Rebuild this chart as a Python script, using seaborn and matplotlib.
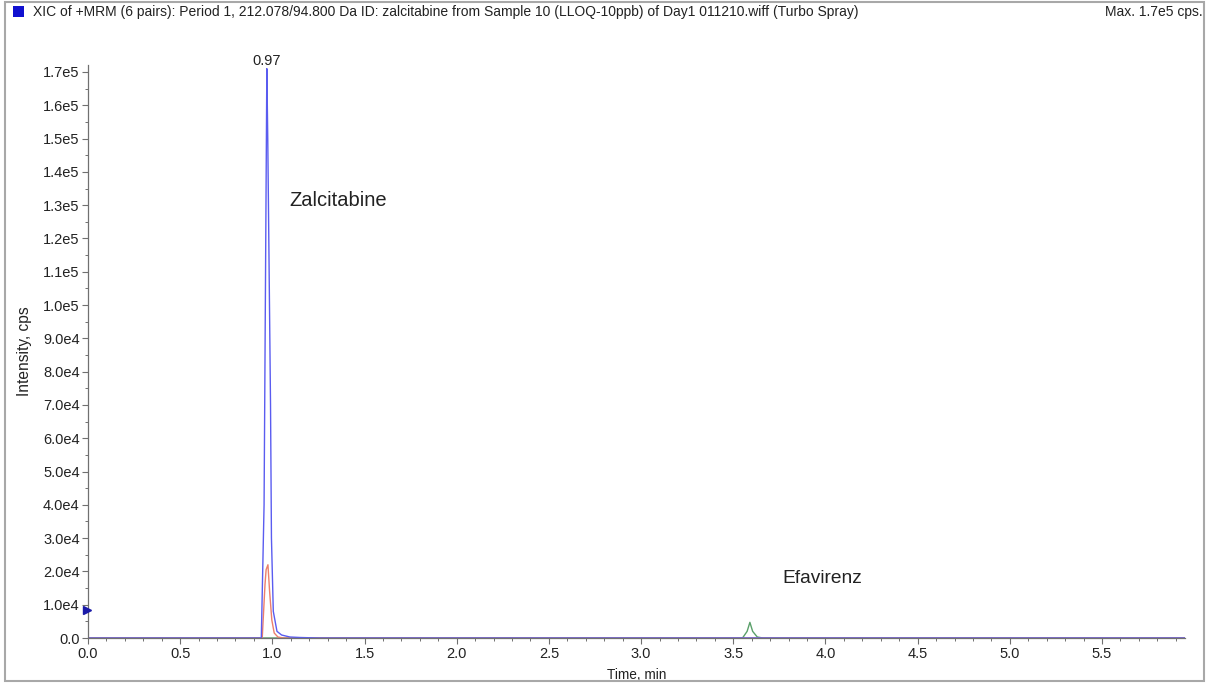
import numpy as np
import pandas as pd
import matplotlib
matplotlib.use("Agg")
import matplotlib.pyplot as plt
from matplotlib.patches import Rectangle
from matplotlib.ticker import MultipleLocator, FuncFormatter
import seaborn as sns

# ---- data ----
blue_time = [0.0, 0.94, 0.955, 0.97, 0.975, 0.99, 0.995, 1.005, 1.025, 1.05, 1.095, 1.15, 1.25, 5.95]
blue_int = [0, 0, 40000, 171000, 150000, 70000, 30000, 8000, 2000, 900, 300, 150, 0, 0]

red_time = [0.0, 0.945, 0.96, 0.966, 0.976, 0.985, 0.997, 1.01, 1.03, 1.06, 5.95]
red_int = [0, 0, 16000, 20500, 22000, 14000, 5400, 1500, 300, 0, 0]

green_time = [0.0, 3.55, 3.575, 3.59, 3.605, 3.63, 3.66, 5.95]
green_int = [0, 0, 2000, 4700, 2000, 300, 0, 0]

peak_label_time = 0.97
peak_label_int = 171000
peak_label = "0.97"

labels = ["Zalcitabine", "Efavirenz"]
label_pos_time = [1.092, 3.765]
label_pos_int = [1.315e5, 1.8e4]

title_text = "XIC of +MRM (6 pairs): Period 1, 212.078/94.800 Da ID: zalcitabine from Sample 10 (LLOQ-10ppb) of Day1 011210.wiff (Turbo Spray)"
max_text = "Max. 1.7e5 cps."

df = pd.concat([
    pd.DataFrame({"time": blue_time, "intensity": blue_int, "trace": "blue"}),
    pd.DataFrame({"time": red_time, "intensity": red_int, "trace": "red"}),
    pd.DataFrame({"time": green_time, "intensity": green_int, "trace": "green"}),
])

sns.set_style("white")
plt.rcParams["font.family"] = ["Liberation Sans", "DejaVu Sans"]

fig = plt.figure(figsize=(12.09, 6.84), dpi=100)
ax = fig.add_axes([88 / 1209, 1 - 638 / 684, (1185 - 88) / 1209, (638 - 65) / 684])

palette = {"blue": "#5a5cf0", "red": "#ec7f6c", "green": "#5aa06a"}
for tr in ["green", "red", "blue"]:
    sns.lineplot(data=df[df.trace == tr], x="time", y="intensity", color=palette[tr],
                 lw=1.0, ax=ax, sort=False, estimator=None)

ax.set_xlim(0, 5.95)
ax.set_ylim(0, 1.721e5)

ax.xaxis.set_major_locator(MultipleLocator(0.5))
ax.xaxis.set_minor_locator(MultipleLocator(0.1))
ax.yaxis.set_major_locator(MultipleLocator(1e4))
ax.yaxis.set_minor_locator(MultipleLocator(5e3))

def yfmt(v, pos):
    if v == 0:
        return "0.0"
    s = f"{v:.1e}"
    m, e = s.split("e")
    return f"{m}e{int(e)}"

ax.yaxis.set_major_formatter(FuncFormatter(yfmt))
ax.xaxis.set_major_formatter(FuncFormatter(lambda v, p: f"{v:.1f}"))

for side in ["top", "right"]:
    ax.spines[side].set_visible(False)
for side in ["left", "bottom"]:
    ax.spines[side].set_color("#707070")
    ax.spines[side].set_linewidth(0.9)

ax.tick_params(axis="both", which="major", direction="out", length=4.5, width=0.8,
               color="#707070", labelsize=10.5, labelcolor="#222222", pad=1.5)
ax.tick_params(axis="both", which="minor", direction="out", length=2.5, width=0.7,
               color="#707070")
ax.tick_params(axis="x", which="major", pad=2)
ax.tick_params(axis="x", which="both", bottom=True)
ax.tick_params(axis="y", which="both", left=True)

ax.set_xlabel("Time, min", fontsize=9.8, color="#222222", labelpad=5)
ax.set_ylabel("Intensity, cps", fontsize=11.2, color="#222222", labelpad=8)

ax.text(peak_label_time, peak_label_int + 300, peak_label, ha="center", va="bottom",
        fontsize=10.5, color="#222222", clip_on=False)

ax.text(label_pos_time[0], label_pos_int[0], labels[0], ha="left", va="center",
        fontsize=14.5, color="#222222")
ax.text(label_pos_time[1], label_pos_int[1], labels[1], ha="left", va="center",
        fontsize=13.8, color="#222222")

# blue marker on y axis
ax.plot([-0.005], [8400], marker=">", color="#1a1aa8", markersize=6, clip_on=False, zorder=5)

# figure frame and title bar
fig.patches.append(Rectangle((5 / 1209, 1 - 681 / 684), (1204 - 5) / 1209, (681 - 2) / 684,
                             transform=fig.transFigure, fill=False, edgecolor="#a8a8a8",
                             linewidth=1.5))
fig.patches.append(Rectangle((13 / 1209, 1 - 17 / 684), 11 / 1209, 11 / 684,
                             transform=fig.transFigure, facecolor="#1010d0", edgecolor="none"))
fig.text(33 / 1209, 1 - 12 / 684, title_text, ha="left", va="center", fontsize=10, color="#222222")
fig.text(1203 / 1209, 1 - 12 / 684, max_text, ha="right", va="center", fontsize=10, color="#222222")

fig.savefig("out.png", dpi=100)
